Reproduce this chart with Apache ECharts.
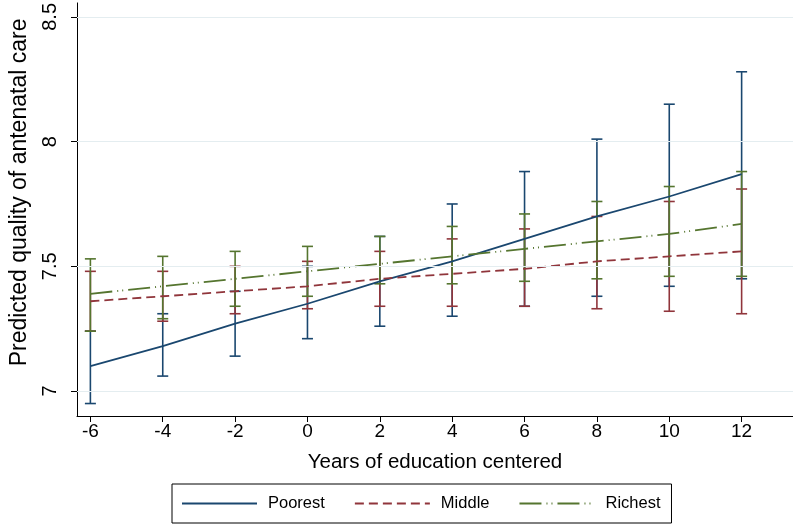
<!DOCTYPE html>
<html>
<head>
<meta charset="utf-8">
<script src="https://cdn.jsdelivr.net/npm/echarts@6/dist/echarts.min.js"></script>
<style>
  html, body { margin: 0; padding: 0; background: #fff; }
  #chart { width: 793px; height: 524px; }
</style>
</head>
<body>
<div id="chart"></div>
<script>
// years of education (centered) at which predictions were made
const years = [-6, -4, -2, 0, 2, 4, 6, 8, 10, 12];
const yTicks = [7, 7.5, 8, 8.5];

// predicted values and 95% CI
const poorestFit = [7.10, 7.18, 7.27, 7.35, 7.44, 7.52, 7.61, 7.70, 7.78, 7.87];
const poorestLo  = [6.95, 7.06, 7.14, 7.21, 7.26, 7.30, 7.34, 7.38, 7.42, 7.45];
const poorestHi  = [7.24, 7.31, 7.40, 7.50, 7.62, 7.75, 7.88, 8.01, 8.15, 8.28];

const middleFit = [7.36, 7.38, 7.40, 7.42, 7.45, 7.47, 7.49, 7.52, 7.54, 7.56];
const middleLo  = [7.24, 7.28, 7.31, 7.33, 7.34, 7.34, 7.34, 7.33, 7.32, 7.31];
const middleHi  = [7.48, 7.48, 7.50, 7.52, 7.56, 7.61, 7.65, 7.70, 7.76, 7.81];

const richestFit = [7.39, 7.42, 7.45, 7.48, 7.51, 7.54, 7.57, 7.60, 7.63, 7.67];
const richestLo  = [7.24, 7.29, 7.34, 7.38, 7.43, 7.43, 7.44, 7.45, 7.46, 7.46];
const richestHi  = [7.53, 7.54, 7.56, 7.58, 7.62, 7.66, 7.71, 7.76, 7.82, 7.88];

const NAVY = '#1a476f', MAROON = '#90353b', GREEN = '#55752f';
const FONT = '"Liberation Sans", Arial, Helvetica, sans-serif';

/**
 * Build [x, fit] pairs for a line series
 */
const pairs = fit => years.map((x, i) => [x, fit[i]]);

/**
 * Capped range bars (rcap) as a custom series
 */
const capSeries = (name, lo, hi, color) => ({
    name: name,
    type: 'custom',
    z: 2,
    silent: true,
    data: years.map((x, i) => [x, lo[i], hi[i]]),
    renderItem: (params, api) => {
        const x = api.value(0);
        const a = api.coord([x, api.value(1)]);
        const b = api.coord([x, api.value(2)]);
        const w = 5.5;
        const style = { stroke: color, lineWidth: 1.6 };
        return {
            type: 'group',
            children: [
                { type: 'line', shape: { x1: a[0], y1: a[1], x2: b[0], y2: b[1] }, style: style },
                { type: 'line', shape: { x1: a[0] - w, y1: a[1], x2: a[0] + w, y2: a[1] }, style: style },
                { type: 'line', shape: { x1: b[0] - w, y1: b[1], x2: b[0] + w, y2: b[1] }, style: style }
            ]
        };
    }
});

const lineSeries = (name, fit, color, dash) => ({
    name: name,
    type: 'line',
    z: 3,
    symbol: 'none',
    data: pairs(fit),
    lineStyle: { color: color, width: 1.8, type: dash },
    itemStyle: { color: color }
});

const chart = echarts.init(document.getElementById('chart'), null, { renderer: 'canvas' });

chart.setOption({
    animation: false,
    backgroundColor: '#fff',
    textStyle: { fontFamily: FONT },
    grid: { left: 70, right: 0, top: 0, bottom: 108, containLabel: false },
    legend: {
        data: ['Poorest', 'Middle', 'Richest'],
        left: 172,
        top: 484,
        orient: 'horizontal',
        itemWidth: 75,
        itemHeight: 14,
        itemGap: 29,
        borderColor: '#000',
        borderWidth: 1,
        padding: [11, 11, 11, 9],
        // hide the marker dot, keep only the line sample
        itemStyle: { opacity: 0 },
        textStyle: { fontSize: 16.5, color: '#000', fontFamily: FONT, padding: [0, 0, 0, 6] }
    },
    xAxis: {
        type: 'value',
        min: -6.37,
        max: 13.42,
        name: 'Years of education centered',
        nameLocation: 'middle',
        nameGap: 36,
        nameTextStyle: { fontSize: 20.5, color: '#000', fontFamily: FONT },
        axisLine: { show: true, onZero: false, lineStyle: { color: '#000', width: 1 } },
        axisTick: { show: true, length: 6, lineStyle: { color: '#000' }, customValues: years },
        axisLabel: { fontSize: 19, color: '#000', margin: 6, customValues: years },
        splitLine: { show: false }
    },
    yAxis: {
        type: 'value',
        min: 6.90,
        max: 8.556,
        name: 'Predicted quality of antenatal care',
        nameLocation: 'middle',
        nameGap: 46,
        nameRotate: 90,
        nameTextStyle: { fontSize: 23, color: '#000', fontFamily: FONT, padding: [0, 0, 0, 34] },
        axisLine: { show: true, onZero: false, lineStyle: { color: '#000', width: 1 } },
        axisTick: { show: true, length: 6, lineStyle: { color: '#000' }, customValues: yTicks },
        axisLabel: { fontSize: 20, color: '#000', rotate: 90, margin: 17, customValues: yTicks },
        splitLine: { show: false }
    },
    series: [
        // horizontal gridlines at the y ticks
        {
            name: 'grid',
            type: 'line',
            data: [],
            z: 1,
            markLine: {
                silent: true,
                symbol: 'none',
                label: { show: false },
                lineStyle: { color: '#e4edf0', width: 1.2, type: 'solid' },
                data: yTicks.map(v => ({ yAxis: v }))
            }
        },
        capSeries('Poorest CI', poorestLo, poorestHi, NAVY),
        capSeries('Middle CI', middleLo, middleHi, MAROON),
        capSeries('Richest CI', richestLo, richestHi, GREEN),
        lineSeries('Poorest', poorestFit, NAVY, 'solid'),
        lineSeries('Middle', middleFit, MAROON, [9, 5]),
        lineSeries('Richest', richestFit, GREEN, [22, 5, 1, 4, 1, 5])
    ]
});
</script>
</body>
</html>
